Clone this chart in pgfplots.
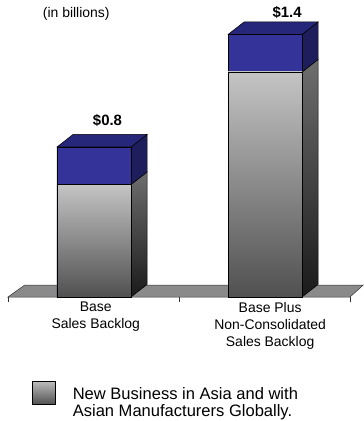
\documentclass[border=0pt]{standalone}
\usepackage{pgfplots}
\pgfplotsset{compat=1.18}
\usepackage{fontspec}
\setmainfont{Liberation Sans}
\definecolor{bluefront}{HTML}{333399}
\definecolor{bluetop}{HTML}{26267A}
\definecolor{blueside}{HTML}{1E1E5C}
\definecolor{graytop}{HTML}{C4C4C4}
\definecolor{graybot}{HTML}{505050}
\definecolor{sidetop}{HTML}{6E6E6E}
\definecolor{sidebot}{HTML}{1A1A1A}
\definecolor{floorc}{HTML}{8A8A8A}
\begin{document}
\begin{tikzpicture}
\begin{axis}[
  name=ax,
  scale only axis, width=364bp, height=421bp,
  xmin=-0.5497, xmax=1.5789,
  ymin=-0.6613, ymax=1.584,
  axis x line*=middle, axis y line=none,
  x axis line style={draw=none},
  xtick={0.01,1.03},
  xticklabels={{Base\\Sales Backlog},{Base Plus\\Non-Consolidated\\Sales Backlog}},
  major tick length=0pt,
  minor xtick={-0.503,0.5,1.497},
  minor tick length=5bp,
  tick align=outside,
  minor tick style={black!80, line width=0.5bp},
  xticklabel style={align=center, font=\fontsize{14}{17}\selectfont, inner sep=0pt, yshift=-5bp},
  clip=false,
  legend style={at={(axis cs:-0.3626,-0.448)}, anchor=north west, draw=none, fill=none,
    inner sep=0pt, column sep=17bp, font=\fontsize{16.6}{17}\selectfont,
    nodes={inner sep=0pt}},
  legend cell align=left,
]
% floor
\addplot[forget plot, fill=floorc, draw=black!80, line width=0.5bp, mark=none]
  coordinates {(-0.503,0) (-0.405,0.064) (1.575,0.064) (1.497,0)} -- cycle;
% side faces (gray)
\addplot[forget plot, draw=black, line width=0.5bp, top color=sidetop, bottom color=sidebot, mark=none]
  coordinates {(0.2164,0) (0.31,0.0667) (0.31,0.6667) (0.2164,0.6)} -- cycle;
\addplot[forget plot, draw=black, line width=0.5bp, top color=sidetop, bottom color=sidebot, mark=none]
  coordinates {(1.2164,0) (1.31,0.0667) (1.31,1.2667) (1.2164,1.2)} -- cycle;
% side faces (blue)
\addplot[forget plot, draw=black, line width=0.5bp, fill=blueside, mark=none]
  coordinates {(0.2164,0.6) (0.31,0.6667) (0.31,0.8667) (0.2164,0.8)} -- cycle;
\addplot[forget plot, draw=black, line width=0.5bp, fill=blueside, mark=none]
  coordinates {(1.2164,1.2) (1.31,1.2667) (1.31,1.4667) (1.2164,1.4)} -- cycle;
% top faces
\addplot[forget plot, draw=black, line width=0.5bp, fill=bluetop, mark=none]
  coordinates {(-0.2164,0.8) (-0.1228,0.8667) (0.31,0.8667) (0.2164,0.8)} -- cycle;
\addplot[forget plot, draw=black, line width=0.5bp, fill=bluetop, mark=none]
  coordinates {(0.7836,1.4) (0.8772,1.4667) (1.31,1.4667) (1.2164,1.4)} -- cycle;
% front faces: totals (blue) then base (gray)
\addplot[forget plot, ybar, bar width=0.4328, bar shift=0pt, fill=bluefront, draw=black, line width=0.5bp]
  coordinates {(0,0.8) (1,1.4)};
\addplot[ybar, bar width=0.4328, bar shift=0pt, draw=black, line width=0.5bp,
  top color=graytop, bottom color=graybot,
  legend image code/.code={\path[draw=black, line width=0.6bp, top color=graytop!95!black, bottom color=graybot] (0bp,-6bp) rectangle (23bp,17bp);}]
  coordinates {(0,0.6)};
\addlegendentry{\begin{tabular}{@{}l@{}}New Business in Asia and with\\Asian Manufacturers Globally.\end{tabular}}
\addplot[forget plot, ybar, bar width=0.4328, bar shift=0pt, draw=black, line width=0.5bp,
  top color=graytop, bottom color=graybot]
  coordinates {(1,1.2)};
% value labels
\node[anchor=base, inner sep=0pt, font=\bfseries\fontsize{15}{17}\selectfont] at (axis cs:0.079,0.912) {\$0.8};
\node[anchor=base, inner sep=0pt, font=\bfseries\fontsize{15}{17}\selectfont] at (axis cs:1.129,1.4907) {\$1.4};
\node[anchor=base west, inner sep=0pt, font=\fontsize{14}{17}\selectfont] at (axis cs:-0.3,1.488) {(in billions)};
\end{axis}
\pgfresetboundingbox
\path (ax.south west) rectangle (ax.north east);
\end{tikzpicture}
\end{document}
